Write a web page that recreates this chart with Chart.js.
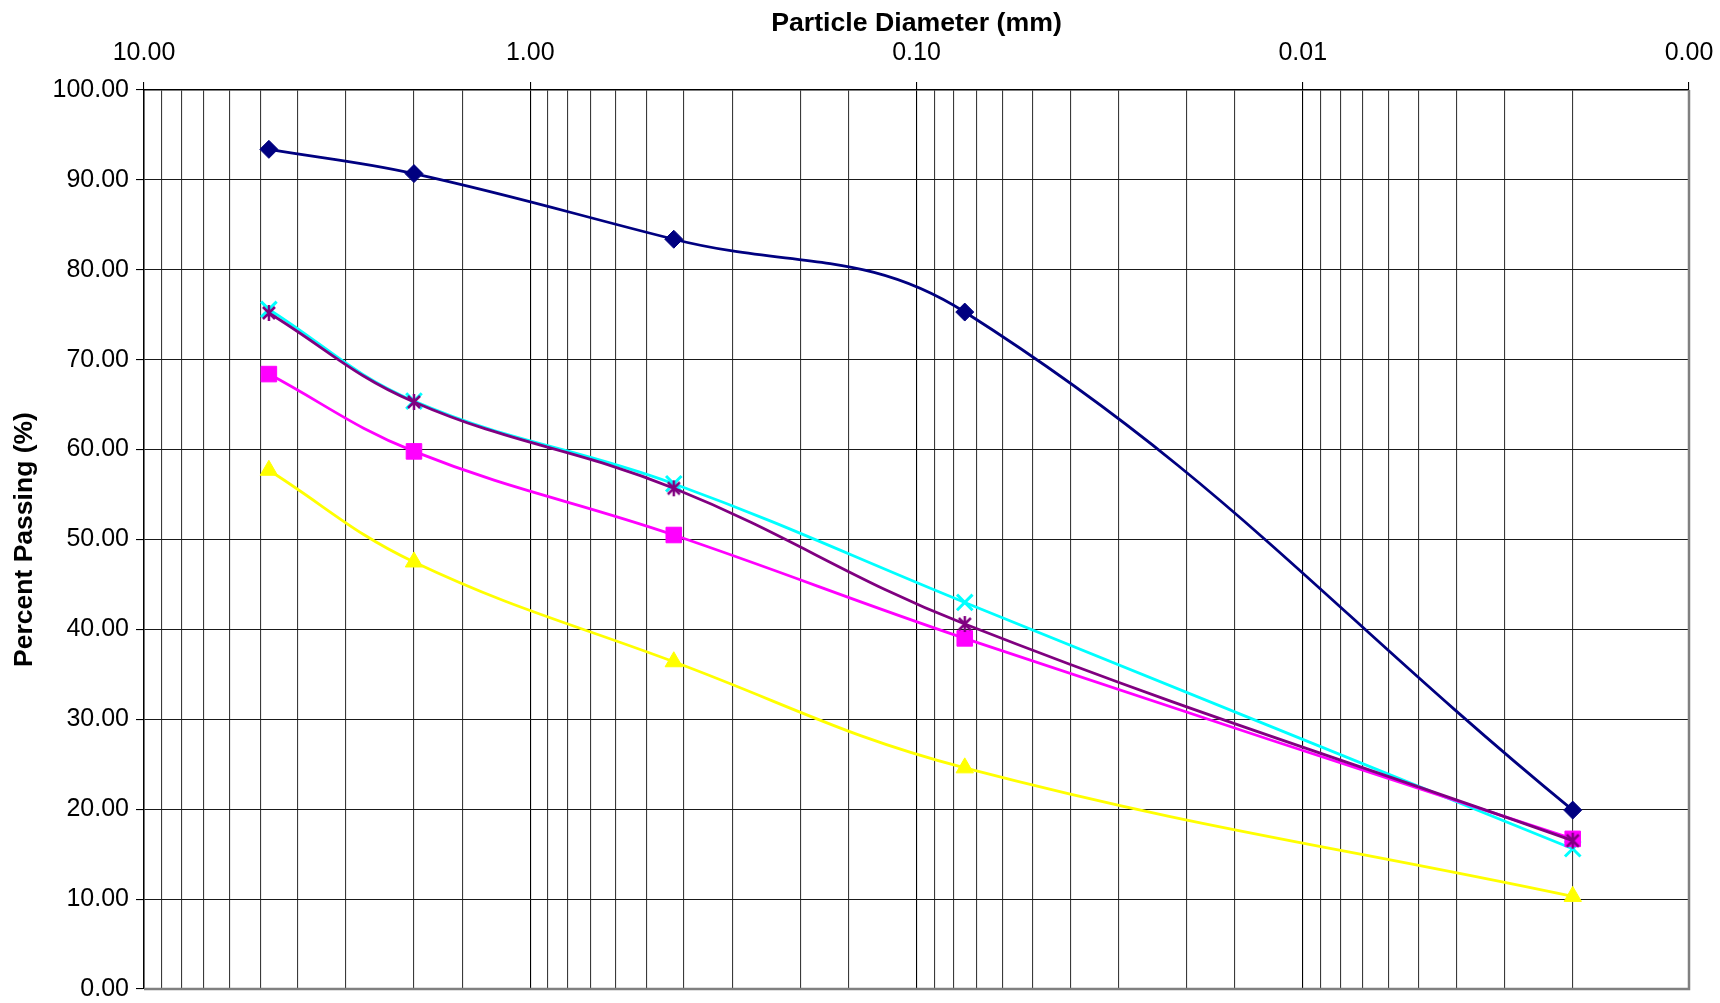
<!DOCTYPE html>
<html>
<head>
<meta charset="utf-8">
<title>Particle Size Distribution</title>
<script src="https://cdn.jsdelivr.net/npm/chart.js@4.4.1/dist/chart.umd.min.js"></script>
<style>
body { margin: 0; background: #fff; }
#wrap { width: 1720px; height: 1003px; }
</style>
</head>
<body>
<div id="wrap"><canvas id="myChart" width="1720" height="1003"></canvas></div>
<script>
// sieve openings (mm) and percent passing for each sample
var sieves = [4.75, 2.0, 0.425, 0.075, 0.002]
var sample1 = [93.4, 90.7, 83.4, 75.3, 19.9]
var sample2 = [75.6, 65.4, 56.2, 43.0, 15.6]
var sample3 = [75.2, 65.3, 55.7, 40.6, 16.5]
var sample4 = [68.4, 59.8, 50.5, 39.0, 16.7]
var sample5 = [57.7, 47.5, 36.4, 24.6, 10.3]

// labelled ticks
var xTicks = [10, 1, 0.1, 0.01, 0.001]
var yTicks = [0, 10, 20, 30, 40, 50, 60, 70, 80, 90, 100]

var FONT = "Arial, 'Liberation Sans', sans-serif"

function points(vals) {
  return sieves.map(function(s, i) {
    return {x: s, y: vals[i]}
  })
}

function isDecade(v) {
  return xTicks.some(function(t) {
    return Math.abs(Math.log10(v) - Math.log10(t)) < 1e-6
  })
}

// asterisk marker (x with a vertical bar)
function starMarker(color) {
  var c = document.createElement('canvas')
  c.width = 18
  c.height = 18
  var g = c.getContext('2d')
  g.strokeStyle = color
  g.lineWidth = 2.5
  g.beginPath()
  g.moveTo(3, 3); g.lineTo(15, 15)
  g.moveTo(15, 3); g.lineTo(3, 15)
  g.moveTo(9, 1); g.lineTo(9, 17)
  g.stroke()
  return c
}

// gray frame on the right and bottom of the plot area
var frame = {
  id: 'frame',
  afterDraw: function(chart) {
    var a = chart.chartArea
    var ctx = chart.ctx
    ctx.save()
    ctx.strokeStyle = '#808080'
    ctx.lineWidth = 2.5
    ctx.beginPath()
    ctx.moveTo(a.left, a.bottom)
    ctx.lineTo(a.right, a.bottom)
    ctx.lineTo(a.right, a.top)
    ctx.stroke()
    ctx.restore()
  }
}

var ctx = document.getElementById('myChart').getContext('2d')
var chart = new Chart(ctx, {
  type: 'line',
  data: {
    datasets: [{
      label: 'Sample 1',
      data: points(sample1),
      borderColor: '#000080',
      backgroundColor: '#000080',
      pointStyle: 'rectRot',
      pointRadius: 9,
      pointBorderWidth: 1,
      order: 0
    }, {
      label: 'Sample 2',
      data: points(sample2),
      borderColor: '#00FFFF',
      backgroundColor: '#00FFFF',
      pointStyle: 'crossRot',
      pointRadius: 11,
      pointBorderWidth: 3,
      order: 3
    }, {
      label: 'Sample 3',
      data: points(sample3),
      borderColor: '#800080',
      backgroundColor: '#800080',
      pointStyle: starMarker('#800080'),
      pointRadius: 9,
      order: 1
    }, {
      label: 'Sample 4',
      data: points(sample4),
      borderColor: '#FF00FF',
      backgroundColor: '#FF00FF',
      pointStyle: 'rect',
      pointRadius: 11,
      pointBorderWidth: 1,
      order: 2
    }, {
      label: 'Sample 5',
      data: points(sample5),
      borderColor: '#FFFF00',
      backgroundColor: '#FFFF00',
      pointStyle: 'triangle',
      pointRadius: 10,
      pointBorderWidth: 1,
      order: 4
    }]
  },
  options: {
    responsive: false,
    devicePixelRatio: 1,
    animation: false,
    events: [],
    layout: {padding: {left: 0, top: 0, right: 31, bottom: 5}},
    elements: {
      line: {borderWidth: 2.8, tension: 0.4, fill: false}
    },
    plugins: {
      legend: {display: false},
      tooltip: {enabled: false}
    },
    scales: {
      x: {
        type: 'logarithmic',
        position: 'top',
        reverse: true,
        min: 0.001,
        max: 10,
        afterFit: function(scale) {
          scale.height = 90
          // let the layout padding decide the edges
          scale.paddingLeft = 0
          scale.paddingRight = 0
        },
        title: {
          display: true,
          text: 'Particle Diameter (mm)',
          color: '#000',
          font: {family: FONT, size: 26.7, weight: 'bold', lineHeight: 1.2},
          padding: {top: 8, bottom: 0}
        },
        ticks: {
          autoSkip: false,
          maxRotation: 0,
          color: '#000',
          padding: 16,
          font: {family: FONT, size: 25, lineHeight: 1},
          callback: function(value) {
            return isDecade(value) ? value.toFixed(2) : ''
          }
        },
        grid: {
          color: function(c) {
            return c.tick && isDecade(c.tick.value) ? '#000' : '#3a3a3a'
          },
          tickColor: function(c) {
            return c.tick && isDecade(c.tick.value) ? '#000' : 'rgba(0,0,0,0)'
          },
          lineWidth: 1.1,
          tickLength: 8
        },
        border: {display: true, color: '#000', width: 1.5}
      },
      y: {
        min: 0,
        max: 100,
        afterFit: function(scale) {
          scale.width = 144
          scale.paddingTop = 0
          scale.paddingBottom = 0
        },
        afterBuildTicks: function(scale) {
          scale.ticks = yTicks.map(function(v) { return {value: v} })
        },
        title: {
          display: true,
          text: 'Percent Passing (%)',
          color: '#000',
          font: {family: FONT, size: 26.5, weight: 'bold', lineHeight: 1.2},
          padding: {top: 9, bottom: 0}
        },
        ticks: {
          color: '#000',
          padding: 7,
          font: {family: FONT, size: 25, lineHeight: 1},
          callback: function(value) { return value.toFixed(2) }
        },
        grid: {
          color: '#1a1a1a',
          lineWidth: 1.1,
          tickColor: '#000',
          tickLength: 8
        },
        border: {display: true, color: '#000', width: 1.5}
      }
    }
  },
  plugins: [frame]
})
</script>
</body>
</html>
